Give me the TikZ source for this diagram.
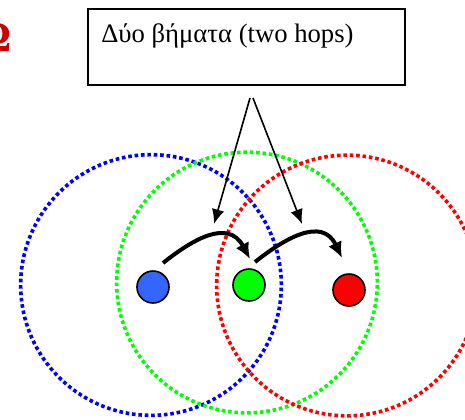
\documentclass[tikz,border=0pt]{standalone}
\usepackage{fontspec}
\setmainfont{Liberation Serif}
\usepackage{xcolor}
\usetikzlibrary{arrows.meta}

\definecolor{titlered}{HTML}{CC0000}
\definecolor{rangeblue}{HTML}{0000FF}
\definecolor{rangegreen}{HTML}{00FF00}
\definecolor{rangered}{HTML}{FF0000}
\definecolor{hostblue}{HTML}{3366FF}

\begin{document}
\begin{tikzpicture}[
  x=0.75pt, y=-0.75pt,
  coverage/.style={circle, line width=2.7pt, dash pattern=on 2.7pt off 2.1pt, minimum size=195.5pt, inner sep=0pt},
  host/.style={circle, draw=black, line width=1.2pt, minimum size=24pt, inner sep=0pt},
  labelbox/.style={rectangle, draw=black, line width=1.5pt, minimum width=237.5pt, minimum height=57pt, inner sep=0pt},
  pointer/.style={-{Latex[length=11pt, width=9.5pt]}, line width=1.2pt, black},
  hoparrow/.style={-{Latex[length=12pt, width=11pt]}, line width=3pt, black}
]
\useasboundingbox (0,0) rectangle (465,419);

\node[font=\fontsize{32}{38}\selectfont\bfseries, text=titlered, anchor=base east, inner sep=0pt] (title) at (12,51) {Ω};

\node[labelbox] (box) at (246.5,47) {};
\node[anchor=base west, inner sep=0pt, font=\fontsize{20}{24}\selectfont] (boxtext) at (101,42) {Δύο βήματα (two hops)};

\node[coverage, draw=rangeblue] (rangeA) at (151,285) {};
\node[coverage, draw=rangegreen] (rangeB) at (247,282.5) {};
\node[coverage, draw=rangered] (rangeC) at (347,285.5) {};

\node[host, fill=hostblue] (hostA) at (153,287) {};
\node[host, fill=rangegreen] (hostB) at (249,285) {};
\node[host, fill=rangered] (hostC) at (349,290) {};

\coordinate (apexL) at (250,98);
\coordinate (apexR) at (253,98);
\coordinate (tipL) at (214,224);
\coordinate (tipR) at (302,224);
\draw[pointer] (apexL) -- (tipL);
\draw[pointer] (apexR) -- (tipR);

\coordinate (hopAs) at (163,263);
\coordinate (hopAe) at (250,259);
\coordinate (hopBs) at (255,262);
\coordinate (hopBe) at (342,258);
\draw[hoparrow] (hopAs) .. controls (192,240) and (228,218) .. (hopAe);
\draw[hoparrow] (hopBs) .. controls (284,239) and (322,216) .. (hopBe);
\end{tikzpicture}
\end{document}
